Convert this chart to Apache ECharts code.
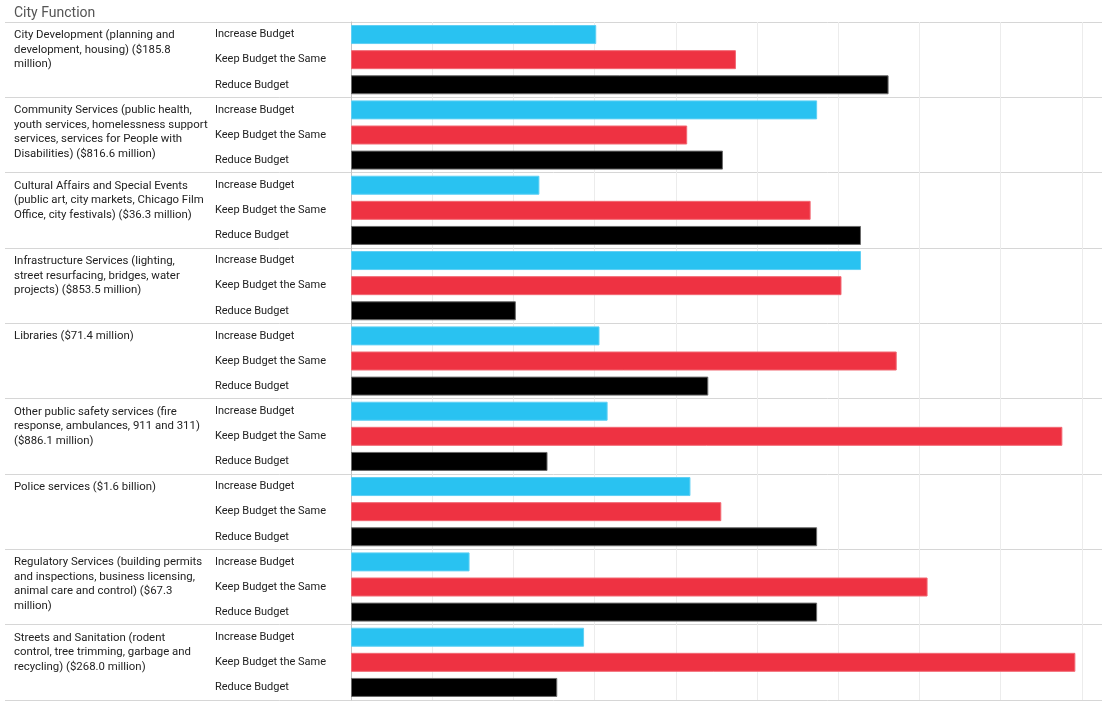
<!DOCTYPE html>
<html>
<head>
<meta charset="utf-8">
<script src="https://cdn.jsdelivr.net/npm/echarts@6/dist/echarts.min.js"></script>
<style>
html,body{margin:0;padding:0;background:#fff;}
#chart{width:1102px;height:702px;}
</style>
</head>
<body>
<div id="chart"></div>
<script>
// City functions (line breaks as in the reference)
const functions = [
  "City Development (planning and\ndevelopment, housing) ($185.8\nmillion)",
  "Community Services (public health,\nyouth services, homelessness support\nservices, services for People with\nDisabilities) ($816.6 million)",
  "Cultural Affairs and Special Events\n(public art, city markets, Chicago Film\nOffice, city festivals) ($36.3 million)",
  "Infrastructure Services (lighting,\nstreet resurfacing, bridges, water\nprojects) ($853.5 million)",
  "Libraries ($71.4 million)",
  "Other public safety services (fire\nresponse, ambulances, 911 and 311)\n($886.1 million)",
  "Police services ($1.6 billion)",
  "Regulatory Services (building permits\nand inspections, business licensing,\nanimal care and control) ($67.3\nmillion)",
  "Streets and Sanitation (rodent\ncontrol, tree trimming, garbage and\nrecycling) ($268.0 million)"
];
const options = ["Increase Budget", "Keep Budget the Same", "Reduce Budget"];

// Share of responses (%) per function
const increaseBudget = [15.1, 28.7, 11.6, 31.4, 15.3, 15.8, 20.9, 7.3, 14.35];
const keepBudget     = [23.7, 20.7, 28.3, 30.2, 33.6, 43.8, 22.8, 35.5, 44.6];
const reduceBudget   = [33.1, 22.9, 31.4, 10.15, 22.0, 12.1, 28.7, 28.7, 12.7];

const colors = ["#29c2f1", "#ee3242", "#000000"];
const borders = ["#5fd0f4", "#f26873", "#6a6a6a"];
const seriesValues = [increaseBudget, keepBudget, reduceBudget];

const rowKeys = [];
const barData = [];
functions.forEach((f, i) => {
  options.forEach((o, j) => {
    rowKeys.push(i + "|" + j);
    barData.push({
      value: seriesValues[j][i],
      itemStyle: { color: colors[j], borderColor: borders[j], borderWidth: 1 }
    });
  });
});

const FONT = "Roboto";
const chart = echarts.init(document.getElementById('chart'));
chart.setOption({
  animation: false,
  textStyle: { fontFamily: FONT },
  title: {
    text: "City Function",
    left: 9, top: 1,
    textStyle: { fontFamily: FONT, fontSize: 14, fontWeight: 'normal', color: '#555' }
  },
  grid: [
    { left: 5, right: 0, top: 22, bottom: 2, outerBoundsMode: 'none', containLabel: false },
    { left: 351, right: 0, top: 22, bottom: 2, outerBoundsMode: 'none', containLabel: false }
  ],
  xAxis: [
    { gridIndex: 0, type: 'value', show: false, min: 0, max: 1 },
    {
      gridIndex: 1, type: 'value', min: 0, max: 46.24, interval: 5,
      axisLabel: { show: false }, axisLine: { show: false }, axisTick: { show: false },
      splitLine: { show: true, showMaxLine: false, lineStyle: { color: '#ececec', width: 1 } }
    }
  ],
  yAxis: [
    {
      gridIndex: 0, type: 'category', inverse: true, boundaryGap: false,
      data: functions.concat(['']),
      axisLine: { show: false }, axisTick: { show: false },
      splitLine: { show: true, interval: 0, lineStyle: { color: '#d6d6d6', width: 1 } },
      axisLabel: {
        inside: true, margin: 9, interval: 0, align: 'left', verticalAlign: 'top',
        padding: [6, 0, 0, 0], lineHeight: 14.5,
        fontFamily: FONT, fontSize: 11.4, color: '#222'
      }
    },
    {
      gridIndex: 1, type: 'category', inverse: true,
      data: rowKeys,
      axisLine: { show: true, lineStyle: { color: '#c4c4c4', width: 1 } },
      axisTick: { show: false },
      splitLine: { show: false },
      axisLabel: {
        margin: 136, interval: 0, align: 'left', verticalAlign: 'middle', padding: [4, 0, 0, 0],
        fontFamily: FONT, fontSize: 11, color: '#222',
        formatter: v => options[+v.split('|')[1]]
      }
    }
  ],
  series: [{
    type: 'bar',
    xAxisIndex: 1, yAxisIndex: 1,
    barWidth: 19,
    data: barData
  }]
});
</script>
</body>
</html>
